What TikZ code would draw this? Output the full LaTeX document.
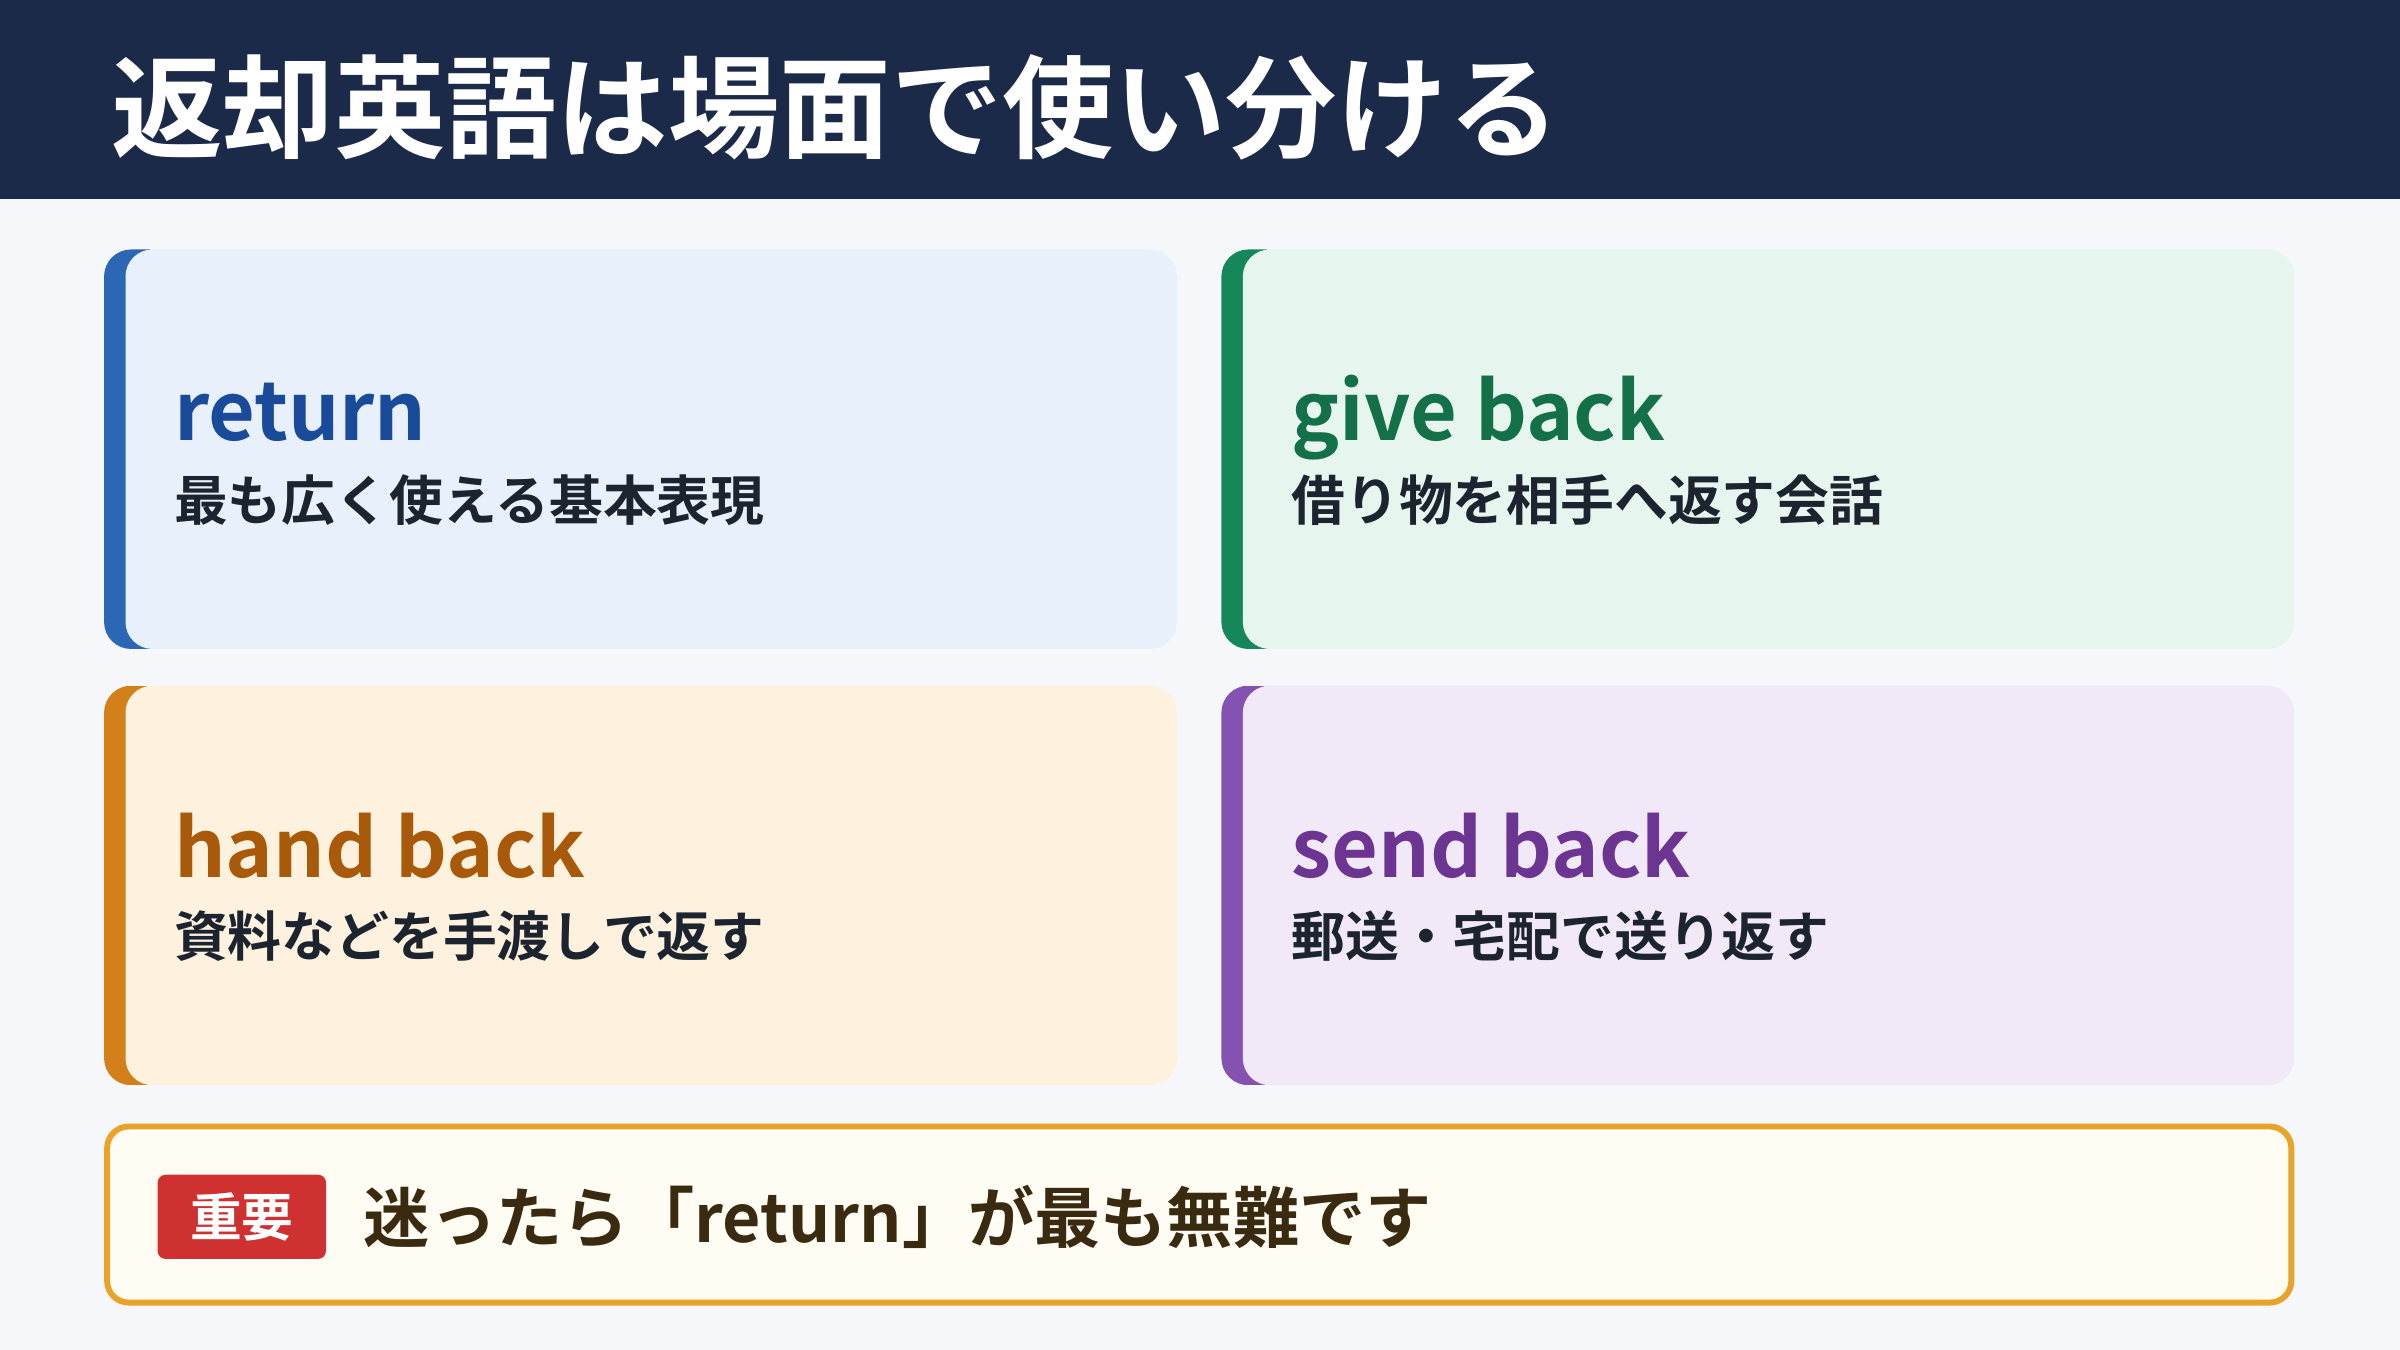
\documentclass[tikz,border=0pt]{standalone}
\usepackage{fontspec}
\setmainfont{Noto Sans CJK JP}[BoldFont={* Bold}]
\usetikzlibrary{positioning}
\definecolor{navy}{HTML}{1C2A4A}
\definecolor{pagebg}{HTML}{F5F7FB}
\definecolor{subtxt}{HTML}{1C2430}
\definecolor{noteline}{HTML}{E9A22A}
\definecolor{notefill}{HTML}{FFFCF3}
\definecolor{notetxt}{HTML}{3A2A10}
\definecolor{badge}{HTML}{CF3030}
\definecolor{retbar}{HTML}{2B67B5}\definecolor{retfill}{HTML}{E8F0FC}\definecolor{rettxt}{HTML}{1A4A9A}
\definecolor{givebar}{HTML}{16875A}\definecolor{givefill}{HTML}{E6F5EE}\definecolor{givetxt}{HTML}{137048}
\definecolor{handbar}{HTML}{D4801A}\definecolor{handfill}{HTML}{FEF1DE}\definecolor{handtxt}{HTML}{A8590A}
\definecolor{sendbar}{HTML}{8452B0}\definecolor{sendfill}{HTML}{F2E9F8}\definecolor{sendtxt}{HTML}{6D3592}
\tikzset{
  heading/.style={anchor=base west, font=\bfseries\fontsize{15}{15}\selectfont, inner sep=0pt},
  subline/.style={anchor=base west, font=\bfseries\fontsize{10}{10}\selectfont, text=subtxt, inner sep=0pt},
}
% card: #1 x, #2 y (top), #3 bar colour, #4 fill colour
\newcommand{\retcard}[4]{%
  \begin{scope}
    \clip[rounded corners=5pt] (#1,#2) rectangle ++(701,261);
    \fill[#3] (#1,#2) rectangle ++(30,261);
    \fill[#4, rounded corners=5pt] (#1+14,#2) rectangle ++(687,261);
  \end{scope}}
\begin{document}
\begin{tikzpicture}[x=0.01cm, y=-0.01cm]
  \fill[pagebg] (0,0) rectangle (1568,882);
  \useasboundingbox (0,0) rectangle (1568,882);
  \fill[navy] (0,0) rectangle (1568,130);
  \node[anchor=west, inner sep=0pt, text=white, font=\bfseries\fontsize{20.7}{21}\selectfont] (title) at (72,70) {返却英語は場面で使い分ける};

  % cards
  \retcard{68}{163}{retbar}{retfill}
  \retcard{798}{163}{givebar}{givefill}
  \retcard{68}{448}{handbar}{handfill}
  \retcard{798}{448}{sendbar}{sendfill}

  \node[heading, text=rettxt] (ret) at (113,288) {return};
  \node[subline] (retsub) at (113,340) {最も広く使える基本表現};
  \node[heading, text=givetxt] (give) at (843,288) {give back};
  \node[subline] (givesub) at (843,340) {借り物を相手へ返す会話};
  \node[heading, text=handtxt] (hand) at (113,573) {hand back};
  \node[subline] (handsub) at (113,625) {資料などを手渡しで返す};
  \node[heading, text=sendtxt] (send) at (843,573) {send back};
  \node[subline] (sendsub) at (843,625) {郵送・宅配で送り返す};

  % note
  \draw[noteline, fill=notefill, line width=1.1pt, rounded corners=4pt] (70,736) rectangle (1497,851);
  \node[fill=badge, rounded corners=1.5pt, text=white, inner sep=0pt,
        minimum width=1.1cm, minimum height=0.55cm, font=\bfseries\fontsize{9.6}{10}\selectfont] (imp) at (158,795) {重要};
  \node[anchor=west, inner sep=0pt, text=notetxt, font=\bfseries\fontsize{12.3}{13}\selectfont] (note) at (237,795) {迷ったら「return」が最も無難です};
\end{tikzpicture}
\end{document}
